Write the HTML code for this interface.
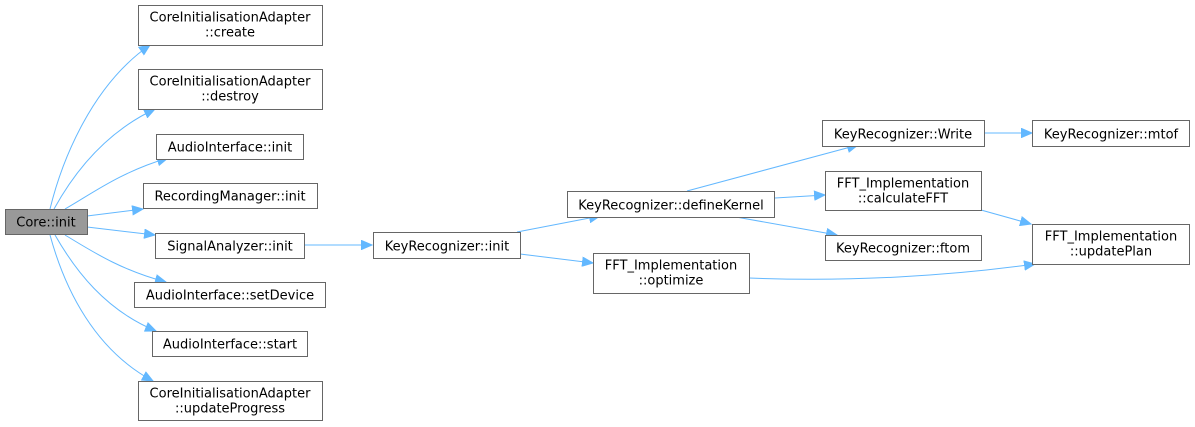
<!DOCTYPE html>
<html><head><meta charset="utf-8"><style>
html,body{margin:0;padding:0;background:#fff;}
svg{display:block;}
text{font-family:"DejaVu Sans","Liberation Sans",sans-serif;font-size:13px;fill:#000;text-anchor:middle;}
.b{fill:#fff;stroke:#666;stroke-width:1;}
.e{fill:none;stroke:#63b8ff;stroke-width:1;}
</style></head><body>
<svg width="1195" height="427" viewBox="0 0 1195 427" xmlns="http://www.w3.org/2000/svg">
<defs><marker id="a" markerUnits="userSpaceOnUse" markerWidth="12" markerHeight="10" refX="11" refY="5" orient="auto"><path d="M0.5,0.5 L11,5 L0.5,9.5 z" fill="#63b8ff" stroke="#63b8ff"/></marker></defs>
<g marker-end="url(#a)">
<path class="e" d="M50,209 C62,160 92,85 150,45"/>
<path class="e" d="M54,209 C70,180 100,135 155,109"/>
<path class="e" d="M65,209 C90,195 120,172 168,158"/>
<path class="e" d="M87,216 L143,209"/>
<path class="e" d="M87,227 L155,235"/>
<path class="e" d="M65,235 C90,250 120,270 166,282"/>
<path class="e" d="M55,235 C75,270 105,310 156,331"/>
<path class="e" d="M50,235 C65,290 95,350 153,381"/>
<path class="e" d="M304,245 L372,245"/>
<path class="e" d="M517,232 L600,216"/>
<path class="e" d="M520,254 L593,263"/>
<path class="e" d="M687,191 L858,145"/>
<path class="e" d="M775,198 L825,195"/>
<path class="e" d="M736,217 L837,235"/>
<path class="e" d="M984,133 L1032,133"/>
<path class="e" d="M981,210 L1031,224"/>
<path class="e" d="M749,278 C850,282 950,276 1035,264"/>
</g>
<rect x="5.5" y="209.5" width="82" height="25" fill="#999" stroke="#666"/>
<text x="46" y="226.5">Core::init</text>
<rect class="b" x="138.5" y="5.5" width="184" height="40"/>
<text x="230" y="21.5">CoreInitialisationAdapter</text><text x="230" y="36.5">::create</text>
<rect class="b" x="138.5" y="69.5" width="184" height="40"/>
<text x="230" y="85.5">CoreInitialisationAdapter</text><text x="230" y="100.5">::destroy</text>
<rect class="b" x="156.5" y="134.5" width="147" height="25"/>
<text x="230" y="151.5">AudioInterface::init</text>
<rect class="b" x="143.5" y="183.5" width="174" height="25"/>
<text x="230" y="200.5">RecordingManager::init</text>
<rect class="b" x="155.5" y="233.5" width="149" height="25"/>
<text x="230" y="250.5">SignalAnalyzer::init</text>
<rect class="b" x="134.5" y="282.5" width="191" height="25"/>
<text x="230" y="299.5">AudioInterface::setDevice</text>
<rect class="b" x="152.5" y="331.5" width="155" height="25"/>
<text x="230" y="348.5">AudioInterface::start</text>
<rect class="b" x="138.5" y="381.5" width="184" height="39"/>
<text x="230" y="397.5">CoreInitialisationAdapter</text><text x="230" y="412.5">::updateProgress</text>
<rect class="b" x="373.5" y="232.5" width="147" height="26"/>
<text x="447" y="250.5">KeyRecognizer::init</text>
<rect class="b" x="567.5" y="191.5" width="207" height="26"/>
<text x="671" y="209.5">KeyRecognizer::defineKernel</text>
<rect class="b" x="593.5" y="253.5" width="156" height="40"/>
<text x="671" y="269.5">FFT_Implementation</text><text x="671" y="284.5">::optimize</text>
<rect class="b" x="822.5" y="120.5" width="162" height="26"/>
<text x="903" y="138.5">KeyRecognizer::Write</text>
<rect class="b" x="825.5" y="171.5" width="156" height="39"/>
<text x="903" y="187.5">FFT_Implementation</text><text x="903" y="202.5">::calculateFFT</text>
<rect class="b" x="825.5" y="235.5" width="156" height="25"/>
<text x="903" y="252.5">KeyRecognizer::ftom</text>
<rect class="b" x="1032.5" y="120.5" width="157" height="26"/>
<text x="1111" y="138.5">KeyRecognizer::mtof</text>
<rect class="b" x="1032.5" y="224.5" width="157" height="40"/>
<text x="1111" y="240.5">FFT_Implementation</text><text x="1111" y="255.5">::updatePlan</text>
</svg>
</body></html>
